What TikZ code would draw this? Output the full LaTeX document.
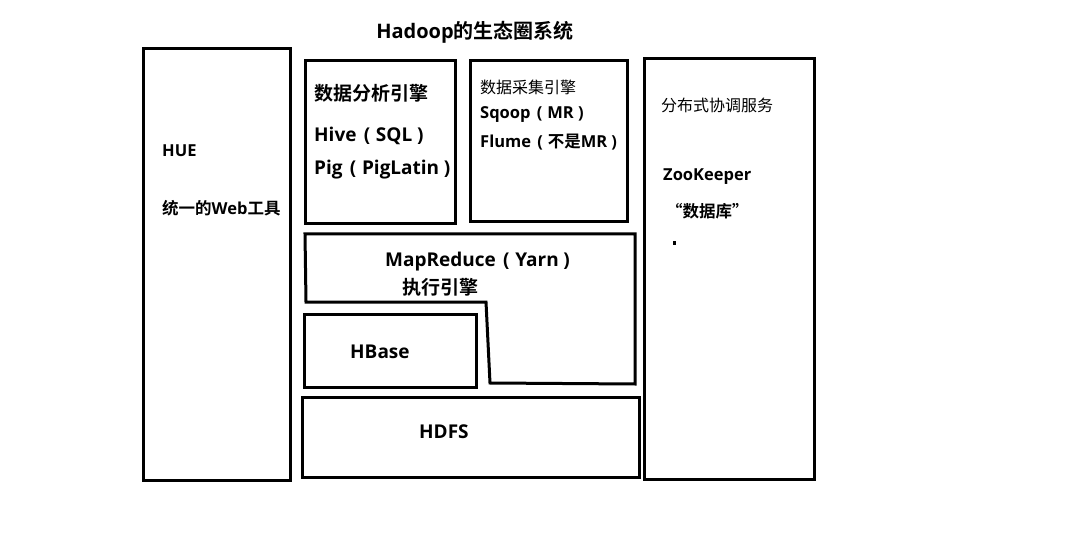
\documentclass[tikz,border=0pt]{standalone}
\usepackage{fontspec}
\setmainfont{Open Sans}
\newfontfamily\cjk{Noto Sans CJK SC}[BoldFont={Noto Sans CJK SC Bold}]
\newcommand{\zh}[1]{{\cjk #1}}
\newcommand{\lp}{\hspace{0.38em}(\hspace{0.3em}}
\newcommand{\rp}{\hspace{0.25em})}
\begin{document}
\begin{tikzpicture}[x=1pt,y=-1pt,
  box/.style={draw=black,line width=3pt},
  lbl/.style={anchor=west,inner sep=0pt,font=\bfseries\fontsize{19}{21}\selectfont},
  lblm/.style={anchor=west,inner sep=0pt,font=\bfseries\fontsize{16.5}{18}\selectfont},
  lbls/.style={anchor=west,inner sep=0pt,font=\fontsize{16}{18}\selectfont}]
\useasboundingbox[fill=white] (0,0) rectangle (1082,540);
% boxes
\draw[box] (143,49) rectangle (290,480);
\draw[box] (305,61) rectangle (455,224);
\draw[box] (470,61) rectangle (627,222);
\draw[box] (644,59) rectangle (814,479);
\draw[box] (305,234) -- (635,234) -- (635,384) -- (490,383) -- (486,302) -- (306,302) -- cycle;
\draw[box] (304,314) rectangle (476,387);
\draw[box] (302,397) rectangle (639,477);
% texts
\node[lbl,anchor=center,font=\bfseries\fontsize{20}{22}\selectfont] (title) at (475,32) {Hadoop\zh{的生态圈系统}};
\node[lblm] (hue) at (162,151) {HUE};
\node[lblm] (huet) at (162,208) {\zh{统一的}Web\zh{工具}};
\node[lbl] (ana) at (314,93) {\zh{数据分析引擎}};
\node[lbl] (hive) at (314,136) {Hive\lp SQL\rp};
\node[lbl] (pig) at (314,170) {Pig\lp PigLatin\rp};
\node[lbls] (col) at (480,87) {\zh{数据采集引擎}};
\node[lblm] (sqoop) at (480,115) {Sqoop\lp MR\rp};
\node[lblm] (flume) at (480,142) {Flume\lp\zh{不是}MR\rp};
\node[lbls] (coord) at (661,105) {\zh{分布式协调服务}};
\node[lblm] (zk) at (663,177) {ZooKeeper};
\node[lblm] (db) at (666,211) {\zh{“数据库”}};
\fill (673,241) rectangle (676,245);
\node[lbl] (mr) at (385,262) {MapReduce\lp Yarn\rp};
\node[lbl] (exe) at (402,287) {\zh{执行引擎}};
\node[lbl] (hbase) at (350,352) {HBase};
\node[lbl] (hdfs) at (419,432) {HDFS};
\end{tikzpicture}
\end{document}
